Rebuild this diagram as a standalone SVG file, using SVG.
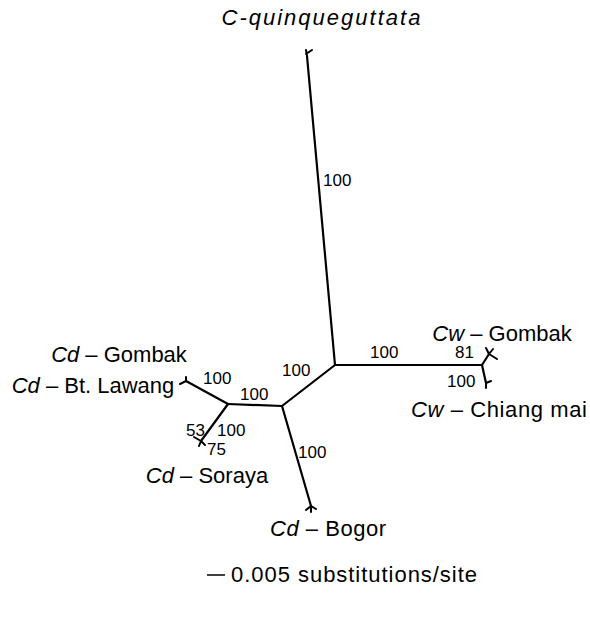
<svg xmlns="http://www.w3.org/2000/svg" width="590" height="619" viewBox="0 0 590 619">
<style>
  .br { fill: none; stroke: #000; stroke-width: 2.2; stroke-linecap: round; stroke-linejoin: round; }
  .tip { fill: none; stroke: #000; stroke-width: 2; stroke-linecap: round; }
  .lab { font-family: "Liberation Sans", Arial, sans-serif; font-size: 22px; fill: #000; text-anchor: middle; }
  .it { font-style: italic; }
  .bs { font-family: "Liberation Sans", Arial, sans-serif; font-size: 17px; fill: #000; }
</style>
<rect width="590" height="619" fill="#fff"/>

<g id="connectors">
  <path class="br" d="M307,56 L335,365"/>
  <path class="br" d="M335,365 L482,365"/>
  <path class="br" d="M335,365 L282,406"/>
  <path class="br" d="M282,406 L228,404"/>
  <path class="br" d="M282,406 L311,506"/>
  <path class="br" d="M228,404 L186,381"/>
  <path class="br" d="M228,404 L201,441"/>
  <path class="br" d="M482,365 L489,354"/>
  <path class="br" d="M482,365 L486,383"/>
</g>

<g id="tip-quinqueguttata">
  <path class="tip" d="M306,54 L312,50 M307,56 L306,50"/>
  <text class="lab it" x="321" y="25" font-size="24" textLength="199" lengthAdjust="spacing">C-quinqueguttata</text>
</g>
<g id="tip-cw-gombak">
  <path class="tip" d="M489,354 L497,359 M489,354 L486,348 M489,354 L493,349"/>
  <text class="lab" x="502" y="341"><tspan class="it">Cw</tspan> – Gombak</text>
</g>
<g id="tip-cw-chiangmai">
  <path class="tip" d="M486,383 L491,381 M486,383 L486,388"/>
  <text class="lab" x="499" y="417" textLength="176" lengthAdjust="spacing"><tspan class="it">Cw</tspan> – Chiang mai</text>
</g>
<g id="tip-cd-gombak">
  <path class="tip" d="M186,381 L180,384 M186,381 L186,377"/>
  <text class="lab" x="119" y="362"><tspan class="it">Cd</tspan> – Gombak</text>
</g>
<g id="tip-cd-btlawang">
  <path class="tip" d="M201,441 L194,437 M201,441 L199,446 M201,441 L205,445"/>
  <text class="lab" x="93" y="393"><tspan class="it">Cd</tspan> – Bt. Lawang</text>
</g>
<g id="tip-cd-soraya">
  <text class="lab" x="207" y="483"><tspan class="it">Cd</tspan> – Soraya</text>
</g>
<g id="tip-cd-bogor">
  <path class="tip" d="M311,506 L306,510 M311,506 L316,509 M311,506 L311,512"/>
  <text class="lab" x="328" y="536" textLength="116" lengthAdjust="spacing"><tspan class="it">Cd</tspan> – Bogor</text>
</g>

<g id="support-values">
  <text class="bs" x="323" y="186">100</text>
  <text class="bs" x="370" y="358">100</text>
  <text class="bs" x="455" y="358">81</text>
  <text class="bs" x="447" y="387">100</text>
  <text class="bs" x="282" y="376">100</text>
  <text class="bs" x="240" y="400">100</text>
  <text class="bs" x="298" y="458">100</text>
  <text class="bs" x="203" y="384">100</text>
  <text class="bs" x="186" y="436">53</text>
  <text class="bs" x="217" y="436">100</text>
  <text class="bs" x="207" y="455">75</text>
</g>

<g id="scale-bar">
  <line x1="207" y1="575" x2="225" y2="575" stroke="#000" stroke-width="1.5"/>
  <text class="lab" x="354" y="582" font-size="23" textLength="246" lengthAdjust="spacing">0.005 substitutions/site</text>
</g>
</svg>
